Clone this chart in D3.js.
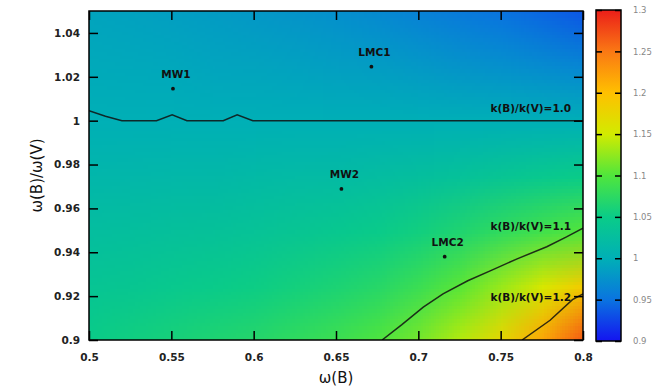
<!DOCTYPE html>
<html>
<head>
<meta charset="utf-8">
<script src="https://cdn.jsdelivr.net/npm/d3@7"></script>
<style>
  body { margin: 0; background: #fff; }
  svg { display: block; }
  text { font-family: "DejaVu Sans", sans-serif; }
</style>
</head>
<body>
<div id="chart"></div>
<script>
// grid of k(B)/k(V), rows from top (1.05) to bottom (0.9)
const omegaB = [0.5, 0.525, 0.55, 0.575, 0.6, 0.625, 0.65, 0.675, 0.7, 0.725, 0.75, 0.775, 0.8];
const omegaRatio = [1.05, 1.025, 1.0, 0.975, 0.95, 0.925, 0.9];
const kRatio = [
  [0.990, 0.988, 0.986, 0.983, 0.980, 0.977, 0.973, 0.968, 0.962, 0.956, 0.950, 0.943, 0.935],
  [0.995, 0.994, 0.993, 0.991, 0.990, 0.988, 0.986, 0.984, 0.981, 0.977, 0.974, 0.970, 0.966],
  [1.000, 1.000, 1.000, 1.000, 1.000, 1.000, 1.000, 1.000, 1.000, 1.000, 1.000, 1.000, 1.000],
  [1.012, 1.013, 1.014, 1.015, 1.017, 1.019, 1.020, 1.023, 1.027, 1.032, 1.038, 1.044, 1.050],
  [1.025, 1.027, 1.029, 1.031, 1.034, 1.038, 1.042, 1.048, 1.056, 1.066, 1.078, 1.090, 1.102],
  [1.037, 1.040, 1.044, 1.048, 1.052, 1.057, 1.063, 1.071, 1.085, 1.104, 1.128, 1.155, 1.188],
  [1.050, 1.055, 1.060, 1.065, 1.070, 1.078, 1.087, 1.099, 1.115, 1.140, 1.175, 1.220, 1.270]
];

// contour lines [omega(B), omega(B)/omega(V)]
const contour10 = [[0.5, 1.0045], [0.51, 1.002], [0.52, 1.0], [0.541, 1.0], [0.5505, 1.0027], [0.5595, 1.0],
  [0.5815, 1.0], [0.59, 1.0027], [0.5995, 1.0], [0.8, 1.0]];
const contour11 = [[0.678, 0.9], [0.69, 0.907], [0.703, 0.915], [0.715, 0.921], [0.73, 0.927], [0.745, 0.932],
  [0.76, 0.937], [0.778, 0.9425], [0.79, 0.947], [0.8, 0.951]];
const contour12 = [[0.763, 0.9], [0.78, 0.909], [0.7936, 0.9184], [0.8, 0.921]];
const contourNames = ["k(B)/k(V)=1.0", "k(B)/k(V)=1.1", "k(B)/k(V)=1.2"];
const contourLabelY = [1.004, 0.9502, 0.9178];

const galaxyNames = ["MW1", "LMC1", "MW2", "LMC2"];
const galaxyOmegaB = [0.551, 0.6715, 0.6533, 0.716];
const galaxyRatio = [1.0146, 1.0246, 0.9689, 0.938];

const xTicks = [0.5, 0.55, 0.6, 0.65, 0.7, 0.75, 0.8];
const yTicks = [0.9, 0.92, 0.94, 0.96, 0.98, 1.0, 1.02, 1.04];
const cbTicks = [0.9, 0.95, 1.0, 1.05, 1.1, 1.15, 1.2, 1.25, 1.3];
const cbColors = ["#1414f0", "#0a74e0", "#00b0b6", "#0acc88", "#50e63c", "#d2eb00", "#ffc000", "#fa7814", "#eb1e19"];

const W = 663, H = 388;
const x = d3.scaleLinear().domain([0.5, 0.8]).range([89, 583]);
const y = d3.scaleLinear().domain([0.9, 1.05]).range([340, 11]);
const cb = d3.scaleLinear().domain([0.9, 1.3]).range([341, 10]);
const color = d3.scaleLinear().domain(cbTicks).range(cbColors).interpolate(d3.interpolateRgb).clamp(true);

const svg = d3.select("#chart").append("svg")
  .attr("width", W)
  .attr("height", H);

svg.append("clipPath").attr("id", "plot-clip")
  .append("rect")
  .attr("x", x(0.5)).attr("y", y(1.05))
  .attr("width", x(0.8) - x(0.5)).attr("height", y(0.9) - y(1.05));

// heat map: one pixel per grid node, smoothed by the browser when scaled up
const cvs = document.createElement("canvas");
cvs.width = omegaB.length;
cvs.height = omegaRatio.length;
const ctx = cvs.getContext("2d");
const img = ctx.createImageData(cvs.width, cvs.height);
kRatio.forEach((row, j) => {
  row.forEach((v, i) => {
    const c = d3.rgb(color(v));
    const k = (j * cvs.width + i) * 4;
    img.data[k] = c.r; img.data[k + 1] = c.g; img.data[k + 2] = c.b; img.data[k + 3] = 255;
  });
});
ctx.putImageData(img, 0, 0);

const dx = (omegaB[1] - omegaB[0]) / 2;
const dy = (omegaRatio[0] - omegaRatio[1]) / 2;
svg.append("image")
  .attr("clip-path", "url(#plot-clip)")
  .attr("href", cvs.toDataURL())
  .attr("preserveAspectRatio", "none")
  .attr("x", x(omegaB[0] - dx))
  .attr("y", y(omegaRatio[0] + dy))
  .attr("width", x(omegaB[omegaB.length - 1] + dx) - x(omegaB[0] - dx))
  .attr("height", y(omegaRatio[omegaRatio.length - 1] - dy) - y(omegaRatio[0] + dy))
  .style("image-rendering", "auto");

// contours
const line = d3.line().x(d => x(d[0])).y(d => y(d[1]));
const g = svg.append("g").attr("clip-path", "url(#plot-clip)");
[contour10, contour11, contour12].forEach(c => {
  g.append("path")
    .attr("d", line(c))
    .attr("fill", "none")
    .attr("stroke", "#111")
    .attr("stroke-opacity", 0.85)
    .attr("stroke-width", 1.5);
});

svg.append("g").selectAll("text")
  .data(contourNames)
  .join("text")
  .attr("x", x(0.8) - 12)
  .attr("y", (d, i) => y(contourLabelY[i]))
  .attr("text-anchor", "end")
  .attr("font-size", 10.5)
  .attr("font-weight", "bold")
  .attr("fill", "#111")
  .text(d => d);

// galaxies
const pts = svg.append("g");
galaxyNames.forEach((name, i) => {
  pts.append("circle")
    .attr("cx", x(galaxyOmegaB[i]))
    .attr("cy", y(galaxyRatio[i]))
    .attr("r", 1.9)
    .attr("fill", "#111");
  pts.append("text")
    .attr("x", x(galaxyOmegaB[i]) + 3)
    .attr("y", y(galaxyRatio[i]) - 10.5)
    .attr("text-anchor", "middle")
    .attr("font-size", 10.5)
    .attr("font-weight", "bold")
    .attr("fill", "#111")
    .text(name);
});

// axes
function styleAxis(sel) {
  sel.select(".domain").remove();
  sel.selectAll(".tick line").attr("stroke", "#000").attr("stroke-width", 1.5);
  sel.selectAll(".tick text")
    .attr("font-family", "DejaVu Sans")
    .attr("font-size", 10.5)
    .attr("font-weight", "bold")
    .attr("fill", "#222");
}
const fmt = d => String(d);

svg.append("g")
  .attr("transform", `translate(0,${y(0.9)})`)
  .call(d3.axisBottom(x).tickValues(xTicks).tickSize(-9).tickPadding(14).tickFormat(fmt))
  .call(styleAxis);
svg.append("g")
  .attr("transform", `translate(0,${y(1.05)})`)
  .call(d3.axisTop(x).tickValues(xTicks).tickSize(-9).tickFormat(""))
  .call(styleAxis);
svg.append("g")
  .attr("transform", `translate(${x(0.5)},0)`)
  .call(d3.axisLeft(y).tickValues(yTicks).tickSize(-9).tickPadding(9).tickFormat(fmt))
  .call(styleAxis);
svg.append("g")
  .attr("transform", `translate(${x(0.8)},0)`)
  .call(d3.axisRight(y).tickValues(yTicks).tickSize(-9).tickFormat(""))
  .call(styleAxis);

svg.append("rect")
  .attr("x", x(0.5)).attr("y", y(1.05))
  .attr("width", x(0.8) - x(0.5)).attr("height", y(0.9) - y(1.05))
  .attr("fill", "none")
  .attr("stroke", "#000")
  .attr("stroke-width", 1.5);

svg.append("text")
  .attr("x", (x(0.5) + x(0.8)) / 2)
  .attr("y", 383)
  .attr("text-anchor", "middle")
  .attr("font-size", 15)
  .attr("fill", "#111")
  .text("ω(B)");
svg.append("text")
  .attr("transform", `translate(42,${(y(0.9) + y(1.05)) / 2}) rotate(-90)`)
  .attr("text-anchor", "middle")
  .attr("font-size", 15)
  .attr("fill", "#111")
  .text("ω(B)/ω(V)");

// colour bar
const cbLeft = 596, cbRight = 621;
const grad = svg.append("defs").append("linearGradient")
  .attr("id", "cb-grad")
  .attr("x1", 0).attr("y1", 1).attr("x2", 0).attr("y2", 0);
grad.selectAll("stop")
  .data(cbTicks)
  .join("stop")
  .attr("offset", d => (d - 0.9) / 0.4)
  .attr("stop-color", d => color(d));

svg.append("rect")
  .attr("x", cbLeft).attr("y", cb(1.3))
  .attr("width", cbRight - cbLeft).attr("height", cb(0.9) - cb(1.3))
  .attr("fill", "url(#cb-grad)");

const cbAxisR = svg.append("g")
  .attr("transform", `translate(${cbRight},0)`)
  .call(d3.axisRight(cb).tickValues(cbTicks).tickSize(-6).tickPadding(12).tickFormat(fmt));
cbAxisR.select(".domain").remove();
cbAxisR.selectAll(".tick line").attr("stroke", "#000").attr("stroke-width", 1.5);
cbAxisR.selectAll(".tick text")
  .attr("font-family", "DejaVu Sans")
  .attr("font-size", 8.5)
  .attr("fill", "#888");

const cbAxisL = svg.append("g")
  .attr("transform", `translate(${cbLeft},0)`)
  .call(d3.axisLeft(cb).tickValues(cbTicks).tickSize(-6).tickFormat(""));
cbAxisL.select(".domain").remove();
cbAxisL.selectAll(".tick line").attr("stroke", "#000").attr("stroke-width", 1.5);

svg.append("rect")
  .attr("x", cbLeft).attr("y", cb(1.3))
  .attr("width", cbRight - cbLeft).attr("height", cb(0.9) - cb(1.3))
  .attr("fill", "none")
  .attr("stroke", "#000")
  .attr("stroke-width", 1.5);
</script>
</body>
</html>
